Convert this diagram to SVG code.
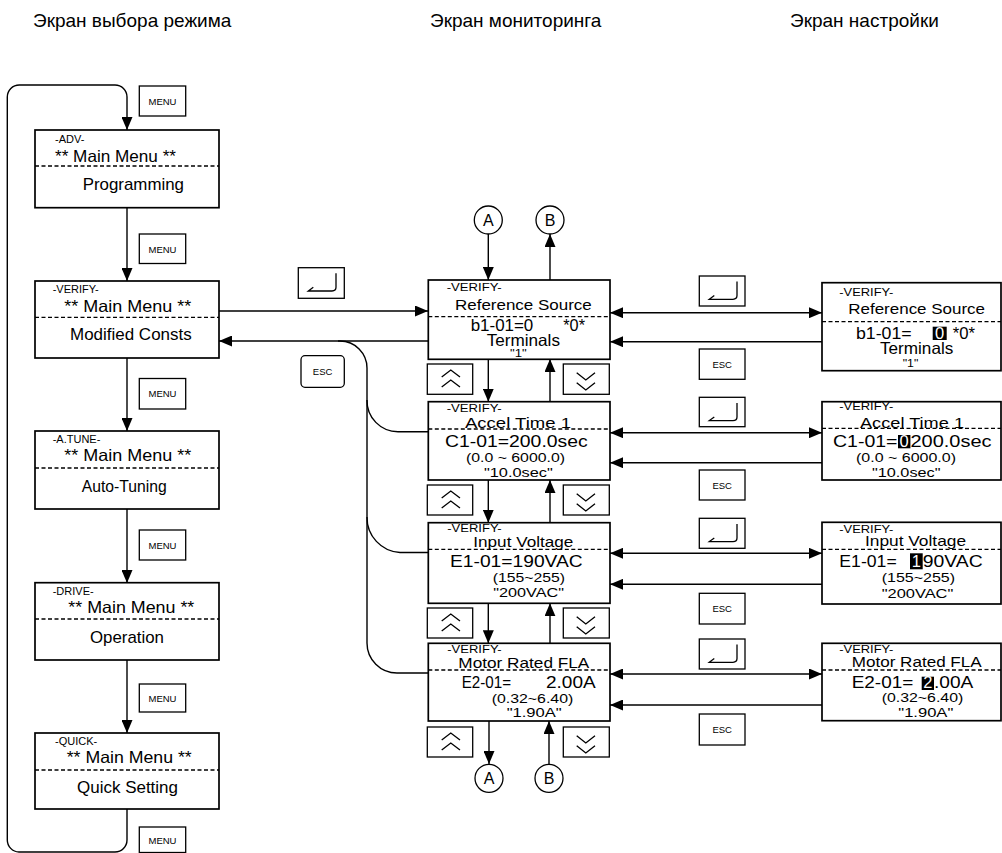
<svg xmlns="http://www.w3.org/2000/svg" width="1002" height="853" viewBox="0 0 1002 853">
<defs>
<marker id="ah" viewBox="0 0 13 11" refX="13" refY="5.5" markerWidth="13" markerHeight="11" markerUnits="userSpaceOnUse" orient="auto-start-reverse"><path d="M0,0 L13,5.5 L0,11 z" fill="#000"/></marker>
<g id="enterSym"><path d="M37.7,5.6 V19.6 Q37.7,23.3 33.7,23.3 H10 L15,19.6" fill="none" stroke="#000" stroke-width="1.3"/></g>
<g id="upSym"><path d="M14.4,13 L23.5,6 L32.7,13 M14.4,23 L23.5,16 L32.7,23" fill="none" stroke="#000" stroke-width="1.3"/></g>
<g id="dnSym"><path d="M13.4,8.7 L22.5,16 L31.7,8.7 M13.4,18.7 L22.5,26 L31.7,18.7" fill="none" stroke="#000" stroke-width="1.3"/></g>
</defs>
<style>
text{font-family:"Liberation Sans",Arial,sans-serif;fill:#000}
.box{fill:#fff;stroke:#000;stroke-width:1.7}
.btn{fill:#fff;stroke:#000;stroke-width:1.3}
.dash{stroke:#000;stroke-width:1.3;stroke-dasharray:4 2.5;fill:none}
.ln{stroke:#000;stroke-width:1.4;fill:none}
.arr{stroke:#000;stroke-width:1.4;fill:none;marker-end:url(#ah)}
.dbl{stroke:#000;stroke-width:1.4;fill:none;marker-end:url(#ah);marker-start:url(#ah)}
.t{font-size:19px}
.sm{font-size:11px}
.mm{font-size:16.5px}
.lo{font-size:17px}
.hd{font-size:15px}
.val{font-size:16.5px}
.rg{font-size:13px}
.q{font-size:13.5px}
.bt{font-size:9.5px;text-anchor:middle}
.ci{font-size:16px;text-anchor:middle}
.hl{fill:#000}
.wt{fill:#fff}
</style>
<rect width="1002" height="853" fill="#fff"/>

<g id="titles">
<text class="t" x="33" y="27">Экран выбора режима</text>
<text class="t" x="430" y="27">Экран мониторинга</text>
<text class="t" x="790" y="27">Экран настройки</text>
</g>

<g id="connectors">
<path class="arr" d="M127,809 V840 A12,12 0 0 1 115,852 H19 A12,12 0 0 1 7.3,840 V97 A12,12 0 0 1 19.3,85 H115 A12,12 0 0 1 127,97 V130"/>
<path class="arr" d="M127,208 V281"/>
<path class="arr" d="M127,358 V431"/>
<path class="arr" d="M127,509 V583"/>
<path class="arr" d="M127,660 V733"/>
<path class="arr" d="M219,311 H428"/>
<path class="arr" d="M428,341 H219"/>
<path class="ln" d="M338,341 H340 A27,27 0 0 1 367,368 V643 A30,30 0 0 0 397,673 H428"/>
<path class="ln" d="M367,400 A31,31 0 0 0 398,431.7 H428"/>
<path class="ln" d="M367,517 A35,35 0 0 0 400,552.5 H428"/>
<path class="arr" d="M488.3,234 V280"/>
<path class="arr" d="M550,280 V234"/>
<path class="arr" d="M488.3,359 V401.7"/>
<path class="arr" d="M550,401.7 V359"/>
<path class="arr" d="M488.3,480 V522.7"/>
<path class="arr" d="M550,522.7 V480"/>
<path class="arr" d="M488.3,603.3 V643.3"/>
<path class="arr" d="M550,643.3 V603.3"/>
<path class="arr" d="M489,721 V764"/>
<path class="arr" d="M549,764 V721"/>
<path class="dbl" d="M610,312.7 H822"/>
<path class="arr" d="M822,341.7 H610"/>
<path class="dbl" d="M610,432.7 H822"/>
<path class="arr" d="M822,462.7 H610"/>
<path class="dbl" d="M610,553.3 H822"/>
<path class="arr" d="M822,584.3 H610"/>
<path class="dbl" d="M610,674 H822"/>
<path class="arr" d="M822,705 H610"/>
</g>

<g id="buttons">
<rect class="btn" x="139.3" y="86" width="46.4" height="30"/><text class="bt" x="162.5" y="104.5">MENU</text>
<rect class="btn" x="139.3" y="234" width="46.4" height="29.5"/><text class="bt" x="162.5" y="252.5">MENU</text>
<rect class="btn" x="139.3" y="378.5" width="46.4" height="30.5"/><text class="bt" x="162.5" y="397">MENU</text>
<rect class="btn" x="139.3" y="530" width="46.4" height="30"/><text class="bt" x="162.5" y="548.5">MENU</text>
<rect class="btn" x="139.3" y="684" width="46.4" height="28"/><text class="bt" x="162.5" y="701.5">MENU</text>
<rect class="btn" x="139.3" y="827" width="46.4" height="25.5"/><text class="bt" x="162.5" y="844">MENU</text>

<g transform="translate(298.3,267.7)"><rect class="btn" width="46" height="30.6"/><use href="#enterSym"/></g>
<rect class="btn" x="301" y="355.7" width="43.3" height="31.6" rx="4"/><text class="bt" x="322.6" y="375">ESC</text>

<g transform="translate(427.3,364)"><rect class="btn" width="45.4" height="30.3"/><use href="#upSym"/></g>
<g transform="translate(563.3,364)"><rect class="btn" width="46" height="30.3"/><use href="#dnSym"/></g>
<g transform="translate(427.3,485)"><rect class="btn" width="45.4" height="30"/><use href="#upSym"/></g>
<g transform="translate(563.3,485)"><rect class="btn" width="46" height="30"/><use href="#dnSym"/></g>
<g transform="translate(427.3,608)"><rect class="btn" width="45.4" height="30"/><use href="#upSym"/></g>
<g transform="translate(563.3,608)"><rect class="btn" width="46" height="30"/><use href="#dnSym"/></g>
<g transform="translate(427.3,727)"><rect class="btn" width="45.4" height="30"/><use href="#upSym"/></g>
<g transform="translate(563.3,727)"><rect class="btn" width="46" height="30"/><use href="#dnSym"/></g>

<g transform="translate(699.3,276)"><rect class="btn" width="45.7" height="30"/><use href="#enterSym"/></g>
<g transform="translate(699.3,397.3)"><rect class="btn" width="45.7" height="29.4"/><use href="#enterSym"/></g>
<g transform="translate(699.3,518.3)"><rect class="btn" width="45.7" height="30"/><use href="#enterSym"/></g>
<g transform="translate(699.3,639)"><rect class="btn" width="45.7" height="30"/><use href="#enterSym"/></g>
<rect class="btn" x="699.3" y="349" width="45.7" height="30.3"/><text class="bt" x="722.2" y="367.5">ESC</text>
<rect class="btn" x="699.3" y="470" width="45.7" height="30"/><text class="bt" x="722.2" y="488.5">ESC</text>
<rect class="btn" x="699.3" y="593.3" width="45.7" height="30.7"/><text class="bt" x="722.2" y="612">ESC</text>
<rect class="btn" x="699.3" y="714" width="45.7" height="31"/><text class="bt" x="722.2" y="733">ESC</text>
</g>

<g id="circleA-top"><circle cx="488.3" cy="220" r="14" fill="#fff" stroke="#000" stroke-width="1.3"/><text class="ci" x="488.3" y="226">A</text></g>
<g id="circleB-top"><circle cx="550" cy="220" r="14" fill="#fff" stroke="#000" stroke-width="1.3"/><text class="ci" x="550" y="226">B</text></g>
<g id="circleA-bot"><circle cx="489" cy="778.3" r="14" fill="#fff" stroke="#000" stroke-width="1.3"/><text class="ci" x="489" y="784.3">A</text></g>
<g id="circleB-bot"><circle cx="549" cy="778.3" r="14" fill="#fff" stroke="#000" stroke-width="1.3"/><text class="ci" x="549" y="784.3">B</text></g>

<g id="mode-adv">
<rect class="box" x="35" y="130" width="184" height="77.7"/>
<line class="dash" x1="35" y1="166" x2="219" y2="166"/>
<text class="sm" x="55" y="143">-ADV-</text>
<text class="mm" x="55" y="161.7" textLength="121" lengthAdjust="spacingAndGlyphs">** Main Menu **</text>
<text class="lo" x="82.7" y="190" textLength="101.3" lengthAdjust="spacingAndGlyphs">Programming</text>
</g>
<g id="mode-verify">
<rect class="box" x="35" y="281" width="184" height="77"/>
<line class="dash" x1="35" y1="317.3" x2="219" y2="317.3"/>
<text class="sm" x="52.7" y="293">-VERIFY-</text>
<text class="mm" x="64.3" y="311.7" textLength="127" lengthAdjust="spacingAndGlyphs">** Main Menu **</text>
<text class="lo" x="70" y="340" textLength="121.7" lengthAdjust="spacingAndGlyphs">Modified Consts</text>
</g>
<g id="mode-atune">
<rect class="box" x="35" y="431" width="184" height="78"/>
<line class="dash" x1="35" y1="468" x2="219" y2="468"/>
<text class="sm" x="52.7" y="443">-A.TUNE-</text>
<text class="mm" x="64.3" y="461" textLength="127" lengthAdjust="spacingAndGlyphs">** Main Menu **</text>
<text class="lo" x="81.7" y="491.7" textLength="85" lengthAdjust="spacingAndGlyphs">Auto-Tuning</text>
</g>
<g id="mode-drive">
<rect class="box" x="35" y="582.7" width="184" height="77.3"/>
<line class="dash" x1="35" y1="619" x2="219" y2="619"/>
<text class="sm" x="52.7" y="595">-DRIVE-</text>
<text class="mm" x="68.3" y="613.3" textLength="126" lengthAdjust="spacingAndGlyphs">** Main Menu **</text>
<text class="lo" x="90" y="642.7" textLength="74" lengthAdjust="spacingAndGlyphs">Operation</text>
</g>
<g id="mode-quick">
<rect class="box" x="35" y="733" width="184" height="76"/>
<line class="dash" x1="35" y1="770" x2="219" y2="770"/>
<text class="sm" x="55" y="745">-QUICK-</text>
<text class="mm" x="66.7" y="763.3" textLength="125" lengthAdjust="spacingAndGlyphs">** Main Menu **</text>
<text class="lo" x="77" y="793.3" textLength="101" lengthAdjust="spacingAndGlyphs">Quick Setting</text>
</g>

<g id="mon-b1-01">
<rect class="box" x="428.3" y="280" width="181.7" height="79.3"/>
<line class="dash" x1="428.3" y1="316.7" x2="610" y2="316.7"/>
<text class="sm" x="446.7" y="291" textLength="55" lengthAdjust="spacingAndGlyphs">-VERIFY-</text>
<text class="hd" x="455" y="310" textLength="136.7" lengthAdjust="spacingAndGlyphs">Reference Source</text>
<text class="val" x="470.7" y="331" textLength="62.6" lengthAdjust="spacingAndGlyphs">b1-01=0</text>
<text class="val" x="563.3" y="331" textLength="21.7" lengthAdjust="spacingAndGlyphs">*0*</text>
<text class="val" x="486.7" y="345.7" textLength="73.3" lengthAdjust="spacingAndGlyphs">Terminals</text>
<text class="sm" x="510" y="356.7" textLength="16.7" lengthAdjust="spacingAndGlyphs">"1"</text>
</g>
<g id="mon-c1-01">
<rect class="box" x="428.3" y="401.7" width="181.7" height="78.3"/>
<line class="dash" x1="428.3" y1="429" x2="610" y2="429"/>
<text class="sm" x="446.7" y="412" textLength="55" lengthAdjust="spacingAndGlyphs">-VERIFY-</text>
<text class="hd" x="465" y="428" textLength="106" lengthAdjust="spacingAndGlyphs">Accel Time 1</text>
<text class="val" x="445" y="446.7" textLength="142.7" lengthAdjust="spacingAndGlyphs">C1-01=200.0sec</text>
<text class="rg" x="466" y="461.7" textLength="99" lengthAdjust="spacingAndGlyphs">(0.0 ~ 6000.0)</text>
<text class="q" x="484" y="476.7" textLength="68.7" lengthAdjust="spacingAndGlyphs">"10.0sec"</text>
</g>
<g id="mon-e1-01">
<rect class="box" x="428.3" y="522.7" width="181.7" height="80.6"/>
<line class="dash" x1="428.3" y1="549.3" x2="610" y2="549.3"/>
<text class="sm" x="447.3" y="532.3" textLength="54.4" lengthAdjust="spacingAndGlyphs">-VERIFY-</text>
<text class="hd" x="473.3" y="546.7" textLength="100" lengthAdjust="spacingAndGlyphs">Input Voltage</text>
<text class="val" x="450" y="566.7" textLength="132.7" lengthAdjust="spacingAndGlyphs">E1-01=190VAC</text>
<text class="rg" x="492.7" y="581.7" textLength="72.3" lengthAdjust="spacingAndGlyphs">(155~255)</text>
<text class="q" x="493.3" y="596.7" textLength="70.7" lengthAdjust="spacingAndGlyphs">"200VAC"</text>
</g>
<g id="mon-e2-01">
<rect class="box" x="428.3" y="643.3" width="181.7" height="77.7"/>
<line class="dash" x1="428.3" y1="670" x2="610" y2="670"/>
<text class="sm" x="447.3" y="653.3" textLength="54.4" lengthAdjust="spacingAndGlyphs">-VERIFY-</text>
<text class="hd" x="458.3" y="668.3" textLength="131" lengthAdjust="spacingAndGlyphs">Motor Rated FLA</text>
<text class="val" x="461.7" y="688.3" textLength="49.3" lengthAdjust="spacingAndGlyphs">E2-01=</text>
<text class="val" x="546" y="688.3" textLength="49.7" lengthAdjust="spacingAndGlyphs">2.00A</text>
<text class="rg" x="491.7" y="702.7" textLength="81.6" lengthAdjust="spacingAndGlyphs">(0.32~6.40)</text>
<text class="q" x="506.7" y="717.3" textLength="55" lengthAdjust="spacingAndGlyphs">"1.90A"</text>
</g>

<g id="set-b1-01">
<rect class="box" x="822" y="282.7" width="179" height="88"/>
<line class="dash" x1="822" y1="321.7" x2="1001" y2="321.7"/>
<text class="sm" x="839.3" y="296" textLength="54" lengthAdjust="spacingAndGlyphs">-VERIFY-</text>
<text class="hd" x="848.3" y="314.3" textLength="136.7" lengthAdjust="spacingAndGlyphs">Reference Source</text>
<text class="val" x="856" y="339" textLength="55.7" lengthAdjust="spacingAndGlyphs">b1-01=</text>
<rect class="hl" x="932.7" y="326.7" width="14" height="13.3"/>
<text class="val wt" x="939.7" y="339" text-anchor="middle">0</text>
<text class="val" x="952.7" y="339" textLength="22.3" lengthAdjust="spacingAndGlyphs">*0*</text>
<text class="val" x="880" y="354.3" textLength="73.3" lengthAdjust="spacingAndGlyphs">Terminals</text>
<text class="sm" x="902.7" y="366.7" textLength="15.6" lengthAdjust="spacingAndGlyphs">"1"</text>
</g>
<g id="set-c1-01">
<rect class="box" x="822" y="401.7" width="179" height="78.3"/>
<line class="dash" x1="822" y1="428.3" x2="1001" y2="428.3"/>
<text class="sm" x="839.3" y="410" textLength="54" lengthAdjust="spacingAndGlyphs">-VERIFY-</text>
<text class="hd" x="860" y="427.7" textLength="104" lengthAdjust="spacingAndGlyphs">Accel Time 1</text>
<text class="val" x="833" y="446.7" textLength="64.5" lengthAdjust="spacingAndGlyphs">C1-01=</text>
<rect class="hl" x="898" y="435" width="12.4" height="13.3"/>
<text class="val wt" x="904.2" y="446.7" text-anchor="middle">0</text>
<text class="val" x="910.5" y="446.7" textLength="81" lengthAdjust="spacingAndGlyphs">200.0sec</text>
<text class="rg" x="856" y="461.7" textLength="100" lengthAdjust="spacingAndGlyphs">(0.0 ~ 6000.0)</text>
<text class="q" x="872" y="476.7" textLength="68.5" lengthAdjust="spacingAndGlyphs">"10.0sec"</text>
</g>
<g id="set-e1-01">
<rect class="box" x="822" y="522.3" width="179" height="81.7"/>
<line class="dash" x1="822" y1="549.3" x2="1001" y2="549.3"/>
<text class="sm" x="839.3" y="532.7" textLength="54" lengthAdjust="spacingAndGlyphs">-VERIFY-</text>
<text class="hd" x="865" y="546" textLength="101" lengthAdjust="spacingAndGlyphs">Input Voltage</text>
<text class="val" x="839.3" y="566.7" textLength="57.4" lengthAdjust="spacingAndGlyphs">E1-01=</text>
<rect class="hl" x="910" y="553.3" width="12.7" height="16"/>
<text class="val wt" x="916.3" y="566.7" text-anchor="middle">1</text>
<text class="val" x="922.7" y="566.7" textLength="60" lengthAdjust="spacingAndGlyphs">90VAC</text>
<text class="rg" x="881.7" y="581.7" textLength="73.3" lengthAdjust="spacingAndGlyphs">(155~255)</text>
<text class="q" x="881.7" y="598" textLength="71.6" lengthAdjust="spacingAndGlyphs">"200VAC"</text>
</g>
<g id="set-e2-01">
<rect class="box" x="822" y="643.3" width="179" height="77.4"/>
<line class="dash" x1="822" y1="670" x2="1001" y2="670"/>
<text class="sm" x="839.3" y="652.7" textLength="54" lengthAdjust="spacingAndGlyphs">-VERIFY-</text>
<text class="hd" x="851.7" y="667.3" textLength="130" lengthAdjust="spacingAndGlyphs">Motor Rated FLA</text>
<text class="val" x="851.7" y="688.3" textLength="61.6" lengthAdjust="spacingAndGlyphs">E2-01=</text>
<rect class="hl" x="921.7" y="676.7" width="12.3" height="13.3"/>
<text class="val wt" x="927.8" y="688.3" text-anchor="middle">2</text>
<text class="val" x="934" y="688.3" textLength="39.3" lengthAdjust="spacingAndGlyphs">.00A</text>
<text class="rg" x="881.7" y="702.3" textLength="81.6" lengthAdjust="spacingAndGlyphs">(0.32~6.40)</text>
<text class="q" x="898.3" y="716.7" textLength="55" lengthAdjust="spacingAndGlyphs">"1.90A"</text>
</g>
</svg>
